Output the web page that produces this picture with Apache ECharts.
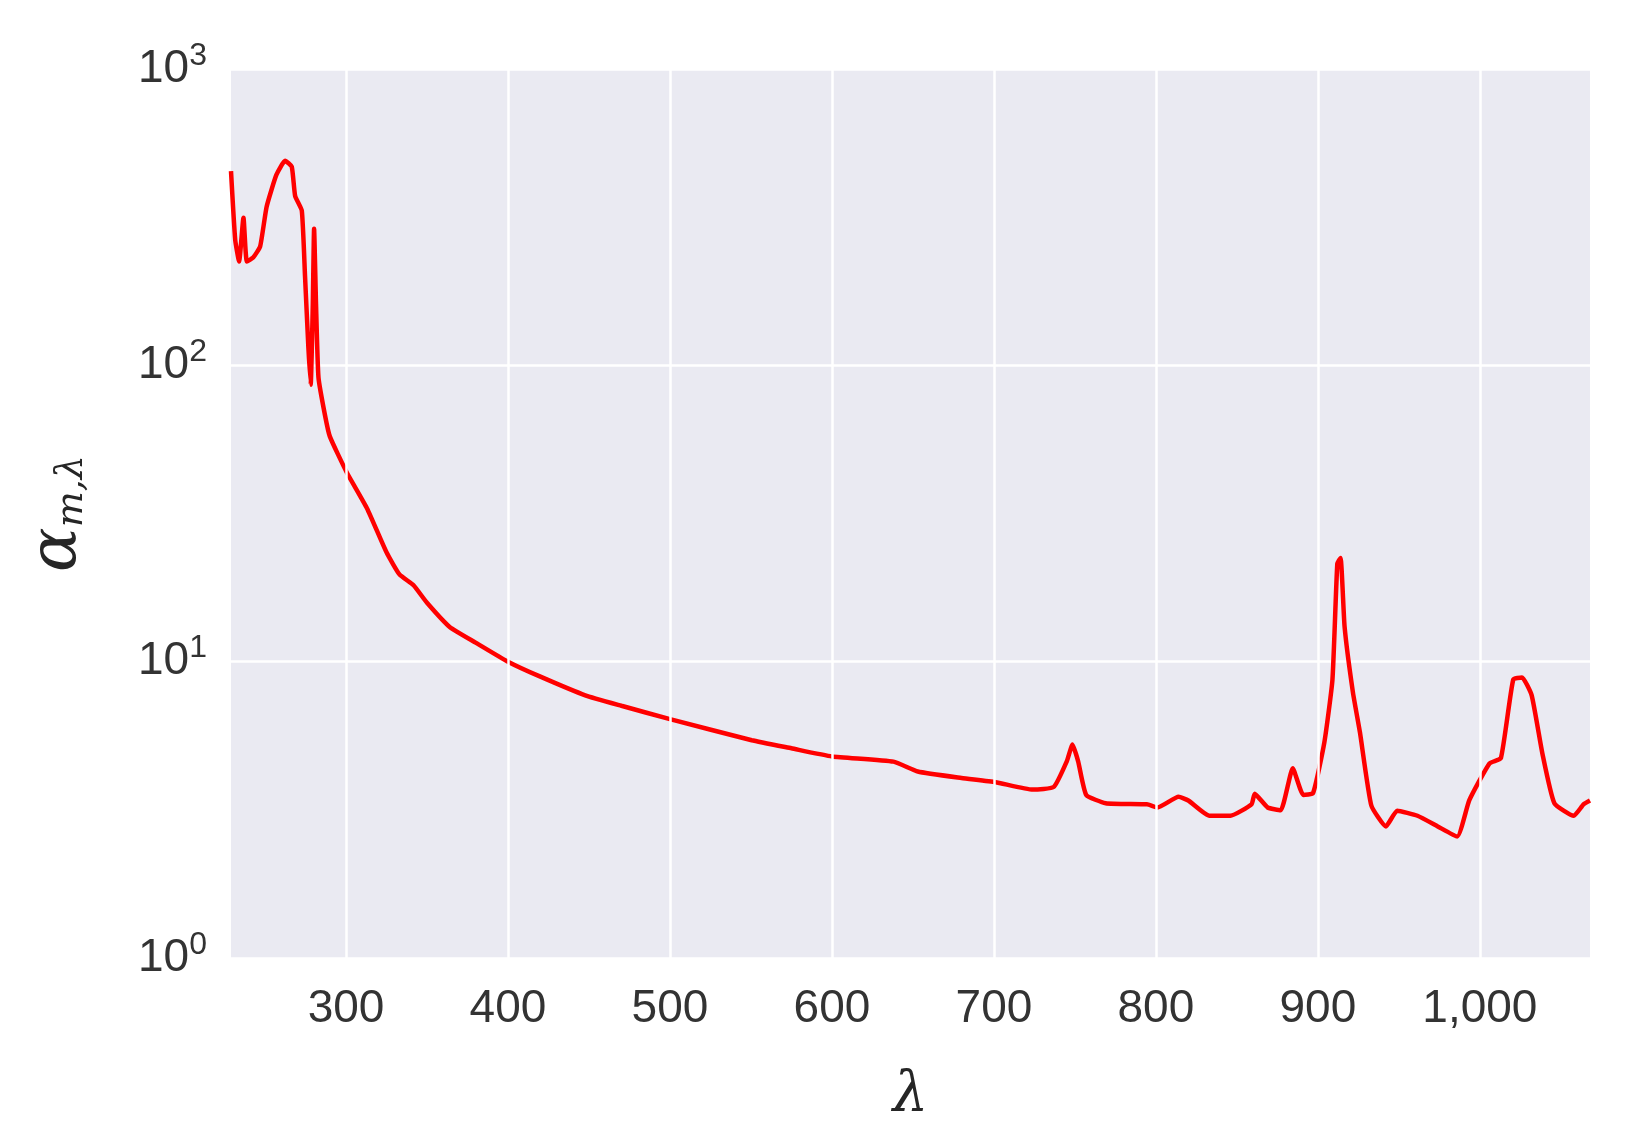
<!DOCTYPE html>
<html>
<head>
<meta charset="UTF-8">
<title>alpha spectrum</title>
<script src="https://cdn.jsdelivr.net/npm/echarts@6/dist/echarts.min.js"></script>
<style>html,body{margin:0;background:#fff}#main{width:1634px;height:1135px}</style>
</head>
<body>
<div id="main"></div>
<script>
// wavelength (nm) and absorption values
var lambda = [229,231.6,234,236.7,238.8,242.7,247,251,257,262.4,266.5,268.6,272.7,274.7,276.8,278.2,279.5,280.3,281.5,283,287,290,300.4,313,325,333,341.7,350,364,380,400,420,447.7,470,500,550.5,575,600,638,653,680,701,724,737,745,748.5,752,757,769,794.5,801,814,820,833,846,859,861,869,877,884.5,891,897,904,909,912,914,916.5,921.6,926,933,942,949,961.5,974,986,993.5,1006,1013,1020.6,1026,1032,1038.6,1046,1058,1064,1068];
var alpha = [452,265,224,315,224,231,252,343,439,490,468,373,333,200,114,86,160,289,160,91,68,57.6,43.6,32.9,23.4,19.7,18.1,15.8,13.1,11.6,10,8.9,7.7,7.1,6.4,5.43,5.1,4.79,4.6,4.26,4.05,3.92,3.70,3.78,4.61,5.25,4.61,3.55,3.33,3.3,3.22,3.50,3.40,3.02,3.02,3.3,3.58,3.22,3.15,4.37,3.55,3.6,5.34,8.7,21.4,22.4,13.1,7.9,5.76,3.27,2.78,3.14,3.02,2.78,2.57,3.41,4.54,4.73,8.7,8.85,7.7,4.9,3.33,3.02,3.3,3.4];
var xTicks = [300,400,500,600,700,800,900,1000];
var supDigits = {1: '0', 10: '1', 100: '2', 1000: '3'};

var pts = lambda.map(function (x, i) { return [x, alpha[i]]; });
var chart = echarts.init(document.getElementById('main'));
chart.setOption({
  animation: false,
  grid: {left: 231, right: 44, top: 69, bottom: 177, show: true, backgroundColor: '#EAEAF2', borderWidth: 0},
  xAxis: {
    type: 'value', min: 229, max: 1068,
    axisLine: {show: false}, axisTick: {show: false},
    splitLine: {show: false},
    axisLabel: {
      fontFamily: 'Arial, Liberation Sans', fontSize: 46, color: '#333', margin: 28,
      customValues: xTicks
    },
    name: 'λ', nameLocation: 'middle', nameGap: 110,
    nameTextStyle: {fontSize: 56, fontStyle: 'italic', color: '#262626', fontFamily: 'DejaVu Serif'}
  },
  yAxis: {
    type: 'log', min: 1, max: 1000, logBase: 10,
    axisLine: {show: false}, axisTick: {show: false},
    splitLine: {lineStyle: {color: '#fff', width: 2.5}},
    axisLabel: {
      margin: 24,
      formatter: function (v) { return '{b|10}{s|' + supDigits[Math.round(v)] + '}'; },
      rich: {
        b: {fontFamily: 'Arial, Liberation Sans', fontSize: 46, color: '#333'},
        s: {fontFamily: 'Arial, Liberation Sans', fontSize: 32, color: '#333', verticalAlign: 'top', padding: [0, 0, 26, 0]}
      }
    },
    name: '{a|α}{m|m,λ}', nameLocation: 'middle', nameGap: 140,
    nameTextStyle: {
      rich: {
        a: {fontSize: 66, fontStyle: 'italic', color: '#262626', fontFamily: 'DejaVu Serif'},
        m: {fontSize: 38, fontStyle: 'italic', color: '#262626', fontFamily: 'DejaVu Serif', verticalAlign: 'bottom', padding: [24, 0, 0, 0]}
      }
    }
  },
  series: [{
    type: 'line', data: [], z: 1, silent: true,
    markLine: {
      silent: true, symbol: 'none', label: {show: false}, animation: false,
      lineStyle: {color: '#fff', width: 2.5, type: 'solid'},
      data: xTicks.map(function (v) { return {xAxis: v}; })
    }
  }, {
    type: 'line', data: pts, showSymbol: false, z: 3, smooth: 0.15,
    lineStyle: {color: '#FF0000', width: 4.5}
  }]
});
</script>
</body>
</html>
